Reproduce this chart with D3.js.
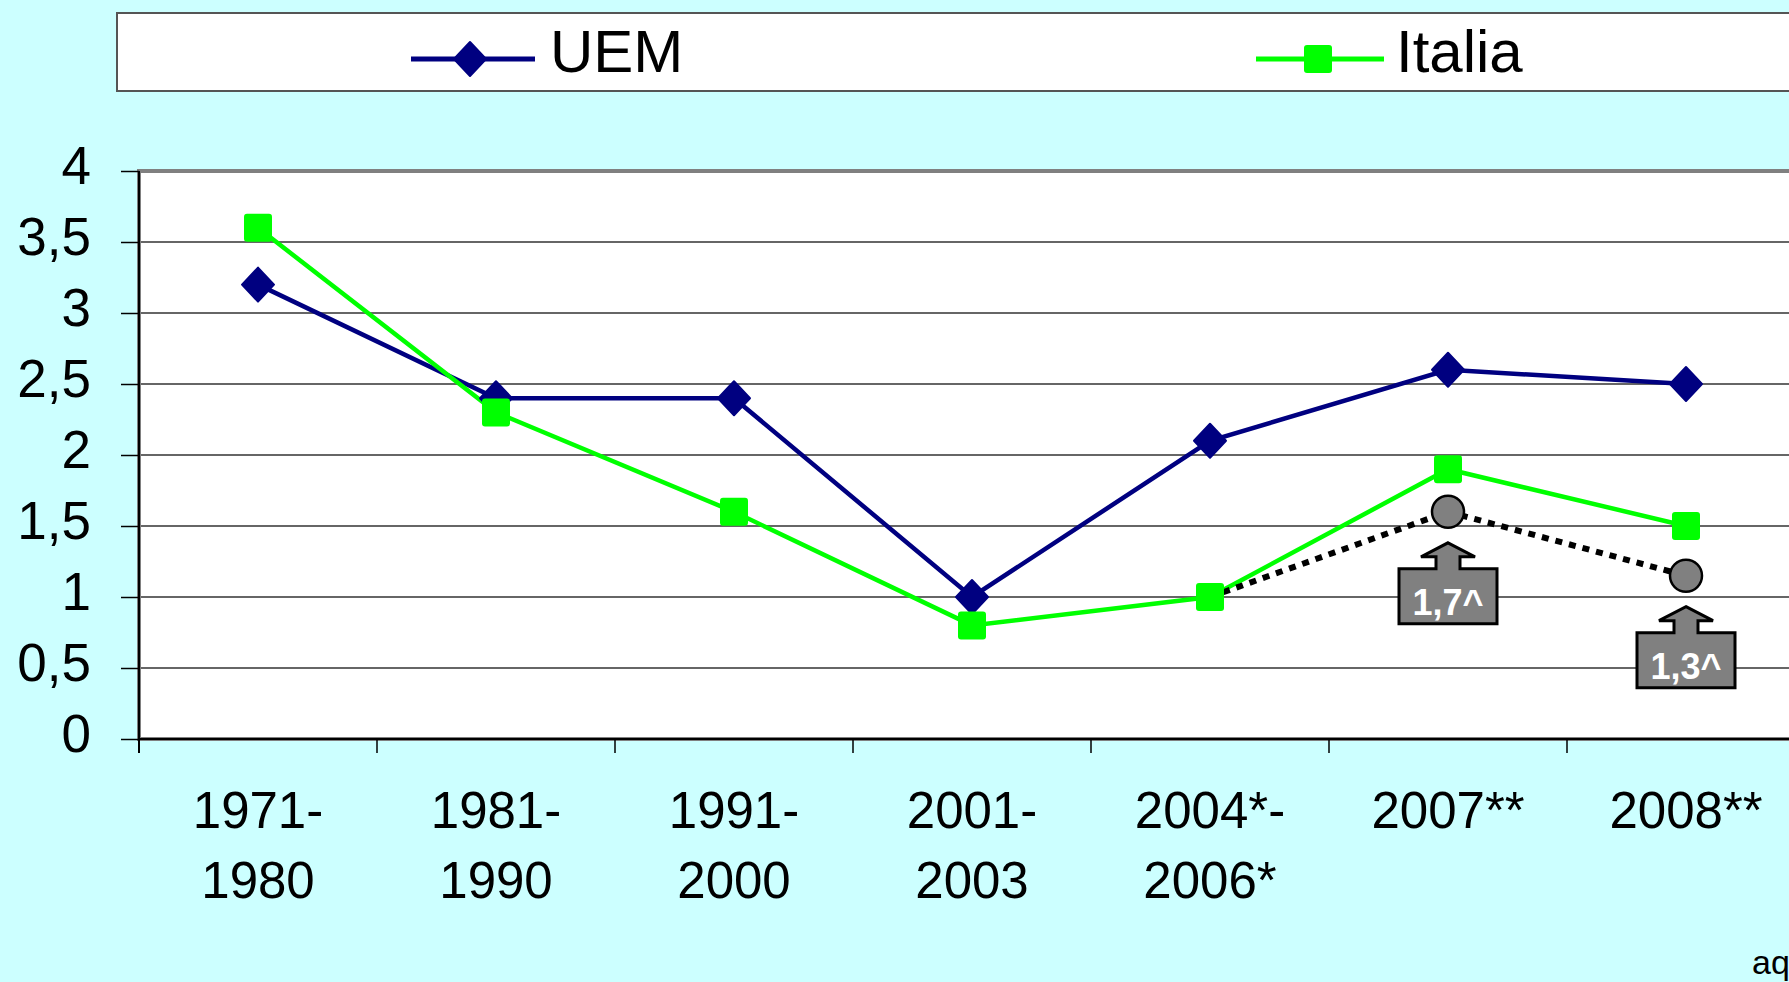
<!DOCTYPE html>
<html>
<head>
<meta charset="utf-8">
<script src="https://cdn.jsdelivr.net/npm/d3@7.9.0/dist/d3.min.js"></script>
<style>
  html, body { margin: 0; padding: 0; background: #ccffff; overflow: hidden; }
  svg { display: block; font-family: "Liberation Sans", Arial, sans-serif; }
</style>
</head>
<body>
<svg id="chart" width="1789" height="982"></svg>
<script>
// data
const categories = ['1971-1980', '1981-1990', '1991-2000', '2001-2003', '2004-2006', '2007', '2008'];
const tickLabels = [['1971-', '1980'], ['1981-', '1990'], ['1991-', '2000'], ['2001-', '2003'], ['2004*-', '2006*'], ['2007**'], ['2008**']];
const uem = [3.2, 2.4, 2.4, 1.0, 2.1, 2.6, 2.5];
const italia = [3.6, 2.3, 1.6, 0.8, 1.0, 1.9, 1.5];
// dotted revision for Italia, starting at 2004-2006
const revCats = ['2004-2006', '2007', '2008'];
const revised = [1.0, 1.6, 1.15];
const revLabels = [null, '1,7^', '1,3^'];
const yTicks = [0, 0.5, 1, 1.5, 2, 2.5, 3, 3.5, 4];

const svg = d3.select('#chart');

const x = d3.scaleBand().domain(categories).range([139, 1805]).padding(0);
const y = d3.scaleLinear().domain([0, 4]).range([739, 171]);
const cx = (c) => x(c) + x.bandwidth() / 2;
const fmt = (d) => String(d).replace('.', ',');

// legend box
svg.append('rect')
  .attr('x', 117).attr('y', 13).attr('width', 1700).attr('height', 78)
  .attr('fill', '#fff').attr('stroke', '#555').attr('stroke-width', 2);

function drawDiamond(g, px, py) {
  g.append('path')
    .attr('d', `M${px},${py - 17} L${px + 16},${py} L${px},${py + 17} L${px - 16},${py} Z`)
    .attr('fill', '#000080').attr('stroke', '#000080').attr('stroke-width', 2).attr('stroke-linejoin', 'round');
}
function drawSquare(g, px, py) {
  g.append('rect')
    .attr('x', px - 14).attr('y', py - 14).attr('width', 28).attr('height', 28)
    .attr('rx', 3).attr('fill', '#00ff00');
}

const legend = svg.append('g');
legend.append('line').attr('x1', 411).attr('x2', 535).attr('y1', 59).attr('y2', 59)
  .attr('stroke', '#000080').attr('stroke-width', 5);
drawDiamond(legend, 470, 59);
legend.append('text').attr('x', 550).attr('y', 72).attr('font-size', 60).text('UEM');
legend.append('line').attr('x1', 1256).attr('x2', 1384).attr('y1', 59).attr('y2', 59)
  .attr('stroke', '#00ff00').attr('stroke-width', 5);
drawSquare(legend, 1318, 59);
legend.append('text').attr('x', 1396).attr('y', 72).attr('font-size', 60).text('Italia');

// plot area
svg.append('rect')
  .attr('x', 139).attr('y', 171).attr('width', 1805 - 139).attr('height', 739 - 171)
  .attr('fill', '#fff').attr('stroke', '#808080').attr('stroke-width', 4);

// gridlines
svg.append('g').selectAll('line').data(yTicks.slice(1, -1)).join('line')
  .attr('x1', 141).attr('x2', 1805)
  .attr('y1', (d) => y(d)).attr('y2', (d) => y(d))
  .attr('stroke', '#333').attr('stroke-width', 1.5);

// y axis
const yAxis = svg.append('g')
  .attr('transform', 'translate(139,0)')
  .call(d3.axisLeft(y).tickValues(yTicks).tickSize(18).tickPadding(30).tickFormat(fmt));
yAxis.select('.domain').remove();
yAxis.selectAll('line').attr('stroke', '#000').attr('stroke-width', 1.5);
yAxis.selectAll('text').attr('font-size', 53).attr('fill', '#000').attr('dy', '0.24em')
  .attr('font-family', '"Liberation Sans", Arial, sans-serif');
svg.append('line').attr('x1', 139).attr('x2', 139).attr('y1', 171).attr('y2', 753)
  .attr('stroke', '#000').attr('stroke-width', 2);

// x axis
svg.append('line').attr('x1', 139).attr('x2', 1805).attr('y1', 739).attr('y2', 739)
  .attr('stroke', '#000').attr('stroke-width', 2);
const bounds = categories.map((c) => x(c)).concat([x.range()[1]]);
svg.append('g').selectAll('line').data(bounds).join('line')
  .attr('x1', (d) => d).attr('x2', (d) => d).attr('y1', 739).attr('y2', 753)
  .attr('stroke', '#000').attr('stroke-width', 1.5);
const xl = svg.append('g').selectAll('text').data(categories).join('text')
  .attr('text-anchor', 'middle').attr('font-size', 51)
  .attr('x', (d) => cx(d)).attr('y', 828);
xl.each(function (d, i) {
  d3.select(this).selectAll('tspan').data(tickLabels[i]).join('tspan')
    .attr('x', cx(d)).attr('dy', (t, j) => (j === 0 ? 0 : 70)).text((t) => t);
});

// series lines
const line = (vals) => d3.line().x((d, i) => cx(categories[i])).y((d) => y(d))(vals);
svg.append('path').attr('d', line(uem)).attr('fill', 'none')
  .attr('stroke', '#000080').attr('stroke-width', 4.5);
svg.append('path').attr('d', line(italia)).attr('fill', 'none')
  .attr('stroke', '#00ff00').attr('stroke-width', 4.5);

// dotted revision
const revLine = d3.line().x((d, i) => cx(revCats[i])).y((d) => y(d));
svg.append('path').attr('d', revLine(revised)).attr('fill', 'none')
  .attr('stroke', '#000').attr('stroke-width', 6).attr('stroke-dasharray', '7,7');

// markers
const mk = svg.append('g');
uem.forEach((v, i) => drawDiamond(mk, cx(categories[i]), y(v)));
italia.forEach((v, i) => drawSquare(mk, cx(categories[i]), y(v)));

// revision points and callouts
revised.forEach((v, i) => {
  if (!revLabels[i]) return;
  const px = cx(revCats[i]);
  const py = y(v);
  svg.append('circle').attr('cx', px).attr('cy', py).attr('r', 16)
    .attr('fill', '#808080').attr('stroke', '#000').attr('stroke-width', 2.5);
  const t = py + 31;
  const p = d3.path();
  p.moveTo(px, t);
  p.lineTo(px + 27, t + 14);
  p.lineTo(px + 12, t + 14);
  p.lineTo(px + 12, t + 26);
  p.lineTo(px + 49, t + 26);
  p.lineTo(px + 49, t + 81);
  p.lineTo(px - 49, t + 81);
  p.lineTo(px - 49, t + 26);
  p.lineTo(px - 12, t + 26);
  p.lineTo(px - 12, t + 14);
  p.lineTo(px - 27, t + 14);
  p.closePath();
  svg.append('path').attr('d', p.toString())
    .attr('fill', '#808080').attr('stroke', '#000').attr('stroke-width', 3).attr('stroke-linejoin', 'miter');
  svg.append('text').attr('x', px).attr('y', t + 72).attr('text-anchor', 'middle')
    .attr('font-size', 36).attr('font-weight', 'bold').attr('fill', '#fff').text(revLabels[i]);
});

// corner note
svg.append('text').attr('x', 1752).attr('y', 974).attr('font-size', 34).text('aq');
</script>
</body>
</html>
